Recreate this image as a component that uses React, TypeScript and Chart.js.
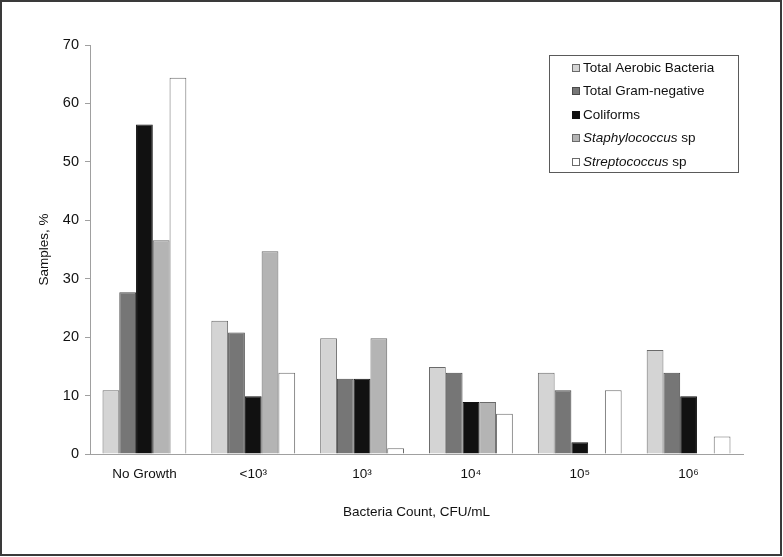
import React, { useEffect, useRef } from "react";
import { Chart, registerables } from "chart.js";

Chart.register(...registerables);

const categories = ["No Growth", "<10³", "10³", "10⁴", "10⁵", "10⁶"];
const totalAerobic = [10.9, 22.8, 19.8, 14.9, 13.9, 17.8];
const totalGramNegative = [27.7, 20.8, 12.9, 13.9, 10.9, 13.9];
const coliforms = [56.4, 9.9, 12.9, 8.9, 2.0, 9.9];
const staphylococcus = [36.6, 34.7, 19.8, 8.9, 0, 0];
const streptococcus = [64.4, 13.9, 1.0, 6.9, 10.9, 3.0];
const yTicks = [0, 10, 20, 30, 40, 50, 60, 70];

const FONT = "'Liberation Sans', Arial, sans-serif";

const seriesStyle = [
  { label: "Total Aerobic Bacteria", italic: "", rest: "Total Aerobic Bacteria", fill: "#d4d4d4", border: "#6a6a6a" },
  { label: "Total Gram-negative", italic: "", rest: "Total Gram-negative", fill: "#767676", border: "#4a4a4a" },
  { label: "Coliforms", italic: "", rest: "Coliforms", fill: "#111111", border: "#111111" },
  { label: "Staphylococcus sp", italic: "Staphylococcus", rest: " sp", fill: "#b4b4b4", border: "#6a6a6a" },
  { label: "Streptococcus sp", italic: "Streptococcus", rest: " sp", fill: "#ffffff", border: "#6a6a6a" },
];

const seriesData = [totalAerobic, totalGramNegative, coliforms, staphylococcus, streptococcus];

const framePlugin = {
  id: "frameAndLegend",
  beforeDraw(chart: any) {
    const ctx = chart.ctx;
    ctx.save();
    ctx.fillStyle = "#ffffff";
    ctx.fillRect(0, 0, chart.width, chart.height);
    ctx.restore();
  },
  afterDraw(chart: any) {
    const ctx = chart.ctx;
    ctx.save();
    // outer frame
    ctx.strokeStyle = "#3a3a3a";
    ctx.lineWidth = 2;
    ctx.strokeRect(1, 1, 780, 554);
    // legend box
    ctx.strokeStyle = "#5a5a5a";
    ctx.lineWidth = 1;
    ctx.fillStyle = "#ffffff";
    ctx.fillRect(549.5, 55.5, 189, 117);
    ctx.strokeRect(549.5, 55.5, 189, 117);
    ctx.textBaseline = "middle";
    ctx.textAlign = "left";
    seriesStyle.forEach((s, i) => {
      const cy = Math.round(67.5 + i * 23.5);
      ctx.fillStyle = s.fill;
      ctx.fillRect(572.5, cy - 3.5, 7, 7);
      ctx.strokeStyle = s.border;
      ctx.strokeRect(572.5, cy - 3.5, 7, 7);
      ctx.fillStyle = "#111111";
      let x = 583;
      if (s.italic) {
        ctx.font = `italic 13.5px ${FONT}`;
        ctx.fillText(s.italic, x, cy + 0.5);
        x += ctx.measureText(s.italic).width;
      }
      ctx.font = `13.5px ${FONT}`;
      ctx.fillText(s.rest, x, cy + 0.5);
    });
    ctx.restore();
  },
};

export default function App() {
  const canvasRef = useRef<HTMLCanvasElement | null>(null);

  useEffect(() => {
    const canvas = canvasRef.current;
    if (!canvas) return;
    const chart = new Chart(canvas, {
      type: "bar",
      data: {
        labels: categories,
        datasets: seriesStyle.map((s, i) => ({
          label: s.label,
          data: seriesData[i],
          backgroundColor: s.fill,
          borderColor: s.border,
          borderWidth: 1,
          borderSkipped: "bottom",
          categoryPercentage: 0.77,
          barPercentage: 1.0,
        })),
      },
      options: {
        responsive: false,
        animation: false,
        devicePixelRatio: 1,
        layout: { padding: { top: 45, right: 40, left: 0, bottom: 0 } },
        plugins: {
          legend: { display: false },
          tooltip: { enabled: false },
          title: { display: false },
        },
        scales: {
          x: {
            grid: { display: true, drawOnChartArea: false, drawTicks: false, color: "rgba(0,0,0,0)" },
            border: { display: true, color: "#a0a0a0", width: 1 },
            ticks: {
              color: "#111111",
              font: { family: FONT, size: 13.5 },
              padding: 12,
              maxRotation: 0,
              autoSkip: false,
            },
            title: {
              display: true,
              text: "Bacteria Count, CFU/mL",
              color: "#111111",
              font: { family: FONT, size: 13.5 },
              padding: { top: 0, bottom: 37 },
            },
            afterFit: (s: any) => {
              s.height = 103;
            },
          },
          y: {
            min: 0,
            max: 70,
            afterBuildTicks: (s: any) => {
              s.ticks = yTicks.map((v) => ({ value: v }));
            },
            grid: {
              display: true,
              drawOnChartArea: false,
              drawTicks: true,
              tickLength: 5,
              color: "#a0a0a0",
            },
            border: { display: true, color: "#a0a0a0", width: 1 },
            ticks: {
              color: "#111111",
              font: { family: FONT, size: 14.5 },
              padding: 6,
            },
            title: {
              display: true,
              text: "Samples, %",
              color: "#111111",
              font: { family: FONT, size: 13.5 },
              padding: { top: 36, bottom: 0 },
            },
            afterFit: (s: any) => {
              s.width = 90;
            },
          },
        },
      },
      plugins: [framePlugin],
    });
    return () => chart.destroy();
  }, []);

  return (
    <div style={{ position: "fixed", left: 0, top: 0, width: 783, height: 557, background: "#fff" }}>
      <canvas ref={canvasRef} width={783} height={557} style={{ display: "block", width: 783, height: 557 }} />
    </div>
  );
}
